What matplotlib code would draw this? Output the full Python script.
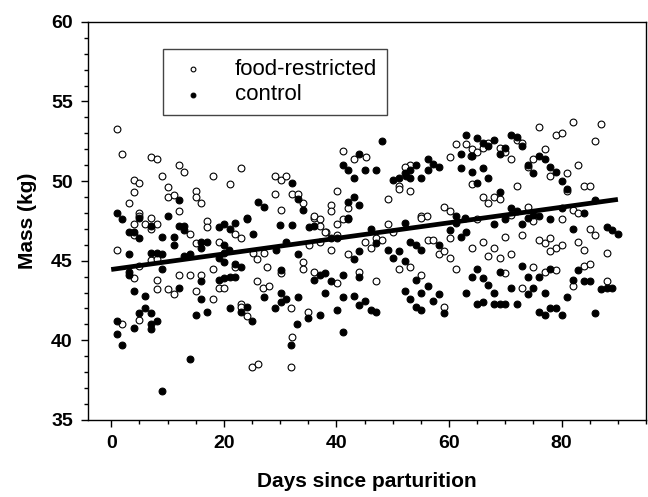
import numpy as np
import matplotlib
matplotlib.use('Agg')
import matplotlib.pyplot as plt
from matplotlib.ticker import MultipleLocator

plt.rcParams['font.family'] = ['Liberation Sans', 'DejaVu Sans']

# food-restricted (open circles): day, mass (kg)
fr_day = [1.0, 2.0, 7.1, 8.1, 4.0, 5.0, 4.0, 3.1, 9.0, 12.0, 13.0, 10.1, 10.0, 11.1, 15.0, 15.0, 16.0, 12.0, 5.0, 7.0,
          18.1, 23.1, 21.1, 29.1, 30.1, 31.1, 29.1, 32.1, 33.1, 30.1, 34.1, 36.1, 39.0, 39.0,
          61.2, 63.1, 63.9, 60.1, 41.1, 45.2, 43.1, 53.1, 52.1, 51.1, 51.1, 53.1, 49.1, 40.1, 42.1, 59.1, 60.1, 55.1, 56.1,
          5.0, 4.0, 6.0, 8.1, 7.0, 4.0, 14.0, 17.0, 17.0, 15.0, 1.0, 7.0, 8.1, 5.0, 4.0, 8.1, 12.0, 14.0, 16.0,
          8.1, 10.0, 11.1, 15.0, 5.0, 2.0,
          22.0, 23.1, 36.1, 37.1, 37.1, 38.1, 19.1, 25.1, 27.1, 35.1, 37.1, 18.1, 25.9, 27.6, 22.0, 30.2, 34.1, 34.1,
          36.1, 25.9, 27.0, 28.0, 19.1, 20.1, 18.1, 23.1, 23.1, 24.1, 32.0, 35.0, 32.1, 32.0, 25.0, 26.0,
          40.1, 41.1, 38.0, 40.1, 39.1, 49.1, 50.1, 55.1, 60.1, 45.1, 46.2, 47.1, 48.1, 56.2, 57.2, 58.2, 59.1, 60.1,
          42.1, 51.1, 53.1, 61.2, 44.1, 40.1, 47.1, 55.1, 59.1,
          64, 65, 66, 67, 68, 69, 70, 71, 72, 73, 74, 75, 76, 77, 78, 79, 80, 81, 82, 83, 84, 85, 86, 87,
          64, 65, 66, 67, 68, 69, 70, 71, 72, 73, 74, 75, 76, 77, 78, 79, 80, 81, 82, 83, 84, 85, 86, 88,
          64, 66, 67, 69, 70, 71, 73, 75, 77, 78, 79, 80, 82, 83, 84, 85, 88]
fr_mass = [53.3, 51.7, 51.5, 51.4, 50.1, 49.9, 49.3, 48.6, 50.3, 51.0, 50.6, 49.6, 49.0, 49.1, 49.4, 49.0, 48.6, 48.1, 48.0, 47.7,
           50.3, 50.8, 49.8, 50.3, 50.1, 50.3, 49.2, 49.2, 49.2, 48.2, 48.6, 47.7, 48.5, 48.1,
           52.3, 52.3, 51.6, 51.5, 51.9, 51.5, 51.4, 51.0, 50.9, 49.7, 49.5, 49.4, 48.9, 49.4, 48.3, 48.4, 48.1, 47.8, 47.8,
           47.8, 47.3, 47.3, 47.3, 47.0, 46.6, 46.7, 47.5, 47.1, 46.1, 45.7, 45.05, 45.1, 44.7, 43.9, 43.8, 44.1, 44.1, 44.1,
           43.2, 43.2, 42.9, 43.1, 41.3, 41.0,
           46.7, 46.4, 47.8, 47.6, 47.2, 46.8, 46.2, 45.5, 45.5, 46.0, 46.2, 44.5, 45.1, 44.6, 44.6, 44.2, 44.9, 44.5,
           44.3, 43.7, 43.3, 43.4, 43.3, 43.3, 42.6, 42.3, 42.1, 41.5, 42.0, 41.8, 40.2, 38.3, 38.3, 38.5,
           47.3, 47.6, 46.8, 46.6, 45.7, 47.3, 46.8, 47.7, 46.4, 46.2, 45.8, 46.4, 46.3, 46.3, 46.3, 45.4, 45.6, 45.2,
           45.4, 44.5, 44.6, 44.5, 44.3, 43.6, 43.7, 44.1, 42.1,
           52.0, 51.8, 52.1, 52.4, 49.0, 52.1, 51.8, 51.4, 52.6, 52.4, 50.9, 51.4, 53.4, 52.0, 50.3, 52.9, 53.0, 50.5, 53.7, 51.0, 49.7, 49.7, 52.5, 53.6,
           49.8, 47.6, 49.0, 48.6, 45.8, 48.9, 46.5, 47.9, 49.7, 46.6, 48.4, 47.5, 46.3, 46.1, 46.4, 45.8, 47.6, 49.4, 48.2, 48.0, 45.7, 47.0, 46.6, 45.5,
           45.8, 46.2, 45.3, 45.2, 44.2, 45.4, 43.3, 44.6, 44.3, 45.6, 44.4, 46.0, 43.4, 46.2, 44.7, 44.8, 43.7]

# control (filled circles): day, mass (kg)
ctl_day = [12.0, 1.0, 2.0, 5.0, 10.0,
           32.1, 33.1, 26.1, 27.1, 34.1, 24.1,
           63.1, 62.2, 62.2, 48.1, 44.1, 41.1, 42.1, 43.1, 45.1, 47.1, 54.1, 56.2, 57.2, 58.2, 56.2, 55.1, 53.1, 52.1,
           51.1, 50.1, 53.1, 52.4, 43.1, 42.1, 44.1, 61.2, 62.9, 42.1,
           7.0, 3.1, 4.0, 5.0, 9.0, 11.1, 12.0, 13.0, 13.0, 11.1, 16.0, 17.0, 3.1, 7.0, 8.1, 9.0, 13.0, 14.0, 16.0,
           9.0, 3.1, 3.1, 16.0, 4.0, 6.0, 12.0, 16.0, 17.0, 15.0, 5.0, 6.0, 7.0, 8.1, 7.0, 7.0, 1.0, 4.0, 1.0, 2.0,
           14.0, 9.0,
           19.1, 20.1, 22.0, 24.1, 21.1, 25.1, 30.0, 32.1, 35.1, 36.1, 20.0, 21.0, 20.0, 19.1, 20.1, 22.0, 23.1, 29.2,
           31.1, 33.1, 30.2, 37.1, 38.0, 36.0, 19.1, 20.1, 21.1, 22.0, 27.1, 30.2, 31.1, 30.2, 29.1, 33.1, 21.1, 24.1,
           23.1, 25.0, 35.0, 37.0, 33.0, 32.0,
           42.1, 39.1, 40.1, 46.2, 52.1, 61.2, 60.1, 62.2, 63.1, 47.1, 53.1, 54.1, 55.1, 58.2, 43.1, 44.1, 49.1, 51.1,
           50.1, 52.1, 41.1, 44.1, 39.1, 54.1, 56.2, 55.1, 52.1, 53.1, 58.2, 57.2, 63.1, 38.0, 41.1, 43.1, 45.1, 44.1,
           40.1, 46.2, 47.1, 54.1, 55.1, 59.1, 41.1,
           64, 65, 66, 67, 68, 69, 70, 71, 72, 73, 74, 75, 76, 77, 78, 79, 80, 81,
           64, 65, 66, 67, 68, 69, 70, 71, 72, 73, 74, 75, 76, 78, 80, 82, 84, 86, 88, 89, 90,
           64, 65, 66, 67, 68, 69, 70, 71, 72, 73, 74, 75, 76, 77, 78, 79, 80, 81, 82, 83, 84, 85, 86, 87, 88, 89,
           65, 66, 68, 69, 74, 76, 77, 78]
ctl_mass = [48.8, 48.0, 47.6, 47.7, 47.8,
            49.9, 48.9, 48.7, 48.4, 48.2, 47.7,
            52.9, 51.7, 50.8, 52.5, 51.7, 51.0, 50.7, 50.2, 50.7, 50.7, 51.0, 51.4, 51.1, 50.9, 50.7, 50.2, 50.7, 50.5,
            50.2, 50.1, 50.2, 50.3, 49.0, 48.7, 48.5, 47.8, 47.7, 47.7,
            47.2, 46.8, 46.8, 46.4, 46.5, 46.5, 47.2, 47.2, 46.9, 46.0, 46.2, 46.2, 45.4, 45.5, 45.5, 45.4, 45.3, 45.4, 45.8,
            44.5, 44.3, 44.1, 43.7, 43.1, 42.8, 43.3, 42.6, 41.8, 41.6, 41.7, 42.0, 41.7, 41.2, 41.0, 40.7, 41.2, 40.8, 40.4, 39.7,
            38.8, 36.8,
            47.1, 47.3, 47.4, 47.6, 47.0, 46.7, 47.25, 47.25, 47.1, 47.2, 46.0, 45.7, 45.5, 45.2, 44.9, 44.8, 44.6, 45.7,
            46.2, 45.4, 44.4, 44.1, 44.2, 43.8, 43.8, 43.9, 44.0, 44.0, 42.7, 43.0, 42.6, 42.4, 42.0, 42.7, 42.0, 42.1,
            41.8, 41.2, 41.4, 41.6, 41.0, 39.7,
            47.6, 46.4, 46.4, 47.0, 47.4, 47.4, 46.9, 46.5, 46.8, 46.1, 46.2, 46.0, 45.7, 46.0, 45.1, 45.6, 45.7, 45.6,
            45.2, 45.0, 44.1, 44.0, 43.7, 43.8, 43.4, 43.0, 43.1, 42.6, 42.9, 42.5, 43.0, 43.0, 42.7, 42.8, 42.5, 42.2,
            41.9, 41.9, 41.8, 42.1, 41.9, 41.7, 40.5,
            51.6, 52.7, 52.4, 52.2, 52.6, 51.7, 52.1, 52.9, 52.8, 52.2, 51.0, 50.5, 51.6, 51.4, 50.9, 50.6, 50.0, 49.5,
            50.6, 49.9, 50.8, 50.2, 47.3, 49.3, 47.6, 48.3, 48.1, 47.3, 47.7, 47.9, 47.8, 47.6, 48.3, 47.0, 48.0, 48.8, 47.1, 46.9, 46.7,
            44.0, 44.5, 43.9, 43.5, 43.0, 44.3, 42.3, 43.3, 42.3, 44.7, 44.0, 43.3, 44.0, 43.0, 44.5, 42.0, 41.6, 42.7, 43.8, 44.4, 43.7, 43.7, 41.7, 43.2, 43.3, 43.3,
            42.3, 42.4, 42.3, 42.3, 42.9, 41.8, 41.6, 42.0]

# regression line end points
fit_day = [0, 90]
fit_mass = [44.45, 48.85]

fig = plt.figure(figsize=(6.48, 4.97), dpi=100)
ax = fig.add_axes([0.136, 0.155, 0.861, 0.801])

ax.scatter(fr_day, fr_mass, s=24, facecolors='white', edgecolors='black', linewidths=0.8,
           label='food-restricted', zorder=3)
ax.scatter(ctl_day, ctl_mass, s=24, facecolors='black', edgecolors='black', linewidths=0.8,
           label='control', zorder=3)
ax.plot(fit_day, fit_mass, color='black', lw=3.4, solid_capstyle='butt', zorder=4)

ax.set_xlim(-4.1, 95)
ax.set_ylim(35, 60)
ax.xaxis.set_major_locator(MultipleLocator(20))
ax.xaxis.set_minor_locator(MultipleLocator(5))
ax.yaxis.set_major_locator(MultipleLocator(5))
ax.yaxis.set_minor_locator(MultipleLocator(1))
ax.set_xticks([0, 20, 40, 60, 80])
ax.tick_params(which='major', direction='out', length=5, width=1, labelsize=14, pad=6)
ax.tick_params(which='minor', direction='out', length=3, width=1)
for lab in ax.get_xticklabels() + ax.get_yticklabels():
    lab.set_fontweight('bold')
for sp in ax.spines.values():
    sp.set_linewidth(1)

ax.set_xlabel('Days since parturition', fontsize=15, fontweight='bold', labelpad=14)
ax.set_ylabel('Mass (kg)', fontsize=15, fontweight='bold', labelpad=10)

leg = ax.legend(loc='upper left', bbox_to_anchor=(0.134, 0.932), borderaxespad=0,
                fontsize=16, markerscale=0.7, handlelength=1.8, handletextpad=1.0,
                borderpad=0.45, labelspacing=0.2, fancybox=False, framealpha=1)
leg.get_frame().set_edgecolor('#444444')
leg.get_frame().set_linewidth(1)

fig.savefig('out.png', dpi=100)
